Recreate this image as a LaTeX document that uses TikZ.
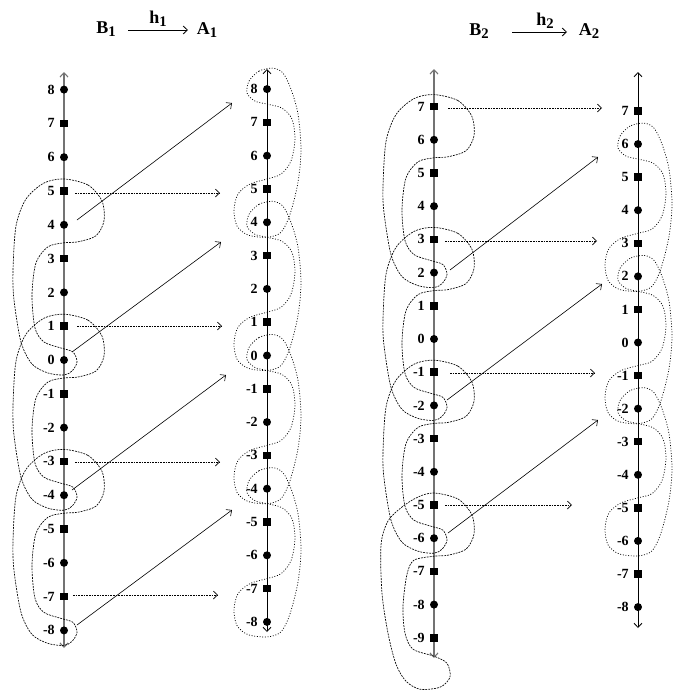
\documentclass[tikz,border=0pt]{standalone}
\usepackage{fontspec}
\setmainfont{Liberation Serif}
\usetikzlibrary{arrows.meta}
\newcommand\lowsub[1]{\raisebox{-2.8pt}{\fontsize{11}{12}\selectfont #1}}
\begin{document}
\begin{tikzpicture}[x=0.75pt,y=-0.75pt,
  >={Straight Barb[length=3.2pt,width=6pt]},
  dotpt/.style={circle,fill=black,inner sep=0pt,minimum size=6pt},
  sqpt/.style={rectangle,fill=black,inner sep=0pt,minimum size=5.6pt},
  lab/.style={anchor=east,font=\fontsize{10.5}{11}\selectfont\bfseries,inner sep=0pt},
  ttl/.style={font=\fontsize{13.5}{14}\selectfont\bfseries,inner sep=1pt},
  axisB/.style={draw=black!55,line width=0.8pt,<->},
  axisA/.style={draw=black,line width=0.6pt,<->},
  curveB/.style={line width=0.5pt,dash pattern=on 1.4pt off 0.8pt},
  curveA/.style={line width=0.55pt,dash pattern=on 0.7pt off 1.3pt},
  harrow/.style={line width=0.5pt,dash pattern=on 1.2pt off 0.8pt,->},
  darrow/.style={line width=0.45pt,->},
  tarrow/.style={line width=0.6pt,->}]
\useasboundingbox (0,0) rectangle (684,693);

% ---------- titles ----------
\node[ttl] (tB1) at (106,29) {B\lowsub{1}};
\node[ttl] (tA1) at (207,30) {A\lowsub{1}};
\draw[tarrow] (128,30) -- (188,30) node[midway,above=1pt,ttl] {h\lowsub{1}};
\node[ttl] (tB2) at (479,31) {B\lowsub{2}};
\node[ttl] (tA2) at (589,31) {A\lowsub{2}};
\draw[tarrow] (512,32) -- (567,32) node[pos=0.6,above=1pt,ttl] {h\lowsub{2}};

% ---------- axes ----------
\coordinate (b1t) at (64,72); \coordinate (b1b) at (64,648);
\coordinate (a1t) at (267,69); \coordinate (a1b) at (267,632);
\coordinate (b2t) at (434,69); \coordinate (b2b) at (434,658);
\coordinate (a2t) at (638,72); \coordinate (a2b) at (638,628);
\draw[axisB] (b1b) -- (b1t);
\draw[axisA] (a1b) -- (a1t);
\draw[axisB] (b2b) -- (b2t);
\draw[axisA] (a2b) -- (a2t);

% ---------- points ----------
\foreach \n in {-8,...,8}{
  \pgfmathsetmacro\yy{360-33.8*\n}
  \ifodd\n\relax \node[sqpt] (b1p\n) at (64,\yy) {};\else \node[dotpt] (b1p\n) at (64,\yy) {};\fi
  \node[lab] at (55,\yy) {\n};
}
\foreach \n in {-8,...,8}{
  \pgfmathsetmacro\yy{355.5-33.3*\n}
  \ifodd\n\relax \node[sqpt] (a1p\n) at (267,\yy) {};\else \node[dotpt] (a1p\n) at (267,\yy) {};\fi
  \node[lab] at (258,\yy) {\n};
}
\foreach \n in {-9,...,7}{
  \pgfmathsetmacro\yy{339-33.2*\n}
  \ifodd\n\relax \node[sqpt] (b2p\n) at (434,\yy) {};\else \node[dotpt] (b2p\n) at (434,\yy) {};\fi
  \node[lab] at (425,\yy) {\n};
}
\foreach \n in {-8,...,7}{
  \pgfmathsetmacro\yy{342.5-33.07*\n}
  \ifodd\n\relax \node[sqpt] (a2p\n) at (638,\yy) {};\else \node[dotpt] (a2p\n) at (638,\yy) {};\fi
  \node[lab] at (629,\yy) {\n};
}

% ---------- B curves ----------
\def\X{64}
\foreach \k in {5,1,-3}{
  \pgfmathsetmacro\Yo{360-33.8*\k}
  \pgfmathsetmacro\Ye{\Yo+33.8}
  \pgfmathsetmacro\Yf{\Ye+135.2}
  \draw[curveB] plot[smooth cycle] coordinates {
    (\X,\Yo-12) (\X+24,\Yo-6) (\X+38,\Yo+10) (\X+40,\Ye-4) (\X+32,\Ye+11) (\X+14,\Ye+17)
    (\X,\Ye+18) (\X-16,\Ye+22) (\X-28,\Ye+38) (\X-32,\Ye+70) (\X-29,\Yf-32) (\X-20,\Yf-18)
    (\X-3,\Yf-12) (\X+9,\Yf-8) (\X+13,\Yf+2) (\X+8,\Yf+11) (\X,\Yf+15) (\X-16,\Yf+13)
    (\X-32,\Yf+4) (\X-43,\Yf-18) (\X-50,\Yf-60) (\X-51,\Yo+80) (\X-48,\Yo+35) (\X-38,\Yo+8)
    (\X-20,\Yo-8)};
}
\def\X{434}
\foreach \k in {7,3,-1}{
  \pgfmathsetmacro\Yo{339-33.2*\k}
  \pgfmathsetmacro\Ye{\Yo+33.2}
  \pgfmathsetmacro\Yf{\Ye+132.8}
  \draw[curveB] plot[smooth cycle] coordinates {
    (\X,\Yo-12) (\X+24,\Yo-6) (\X+38,\Yo+10) (\X+40,\Ye-4) (\X+32,\Ye+11) (\X+14,\Ye+17)
    (\X,\Ye+18) (\X-16,\Ye+22) (\X-28,\Ye+38) (\X-32,\Ye+70) (\X-29,\Yf-32) (\X-20,\Yf-18)
    (\X-3,\Yf-12) (\X+9,\Yf-8) (\X+13,\Yf+2) (\X+8,\Yf+11) (\X,\Yf+15) (\X-16,\Yf+13)
    (\X-32,\Yf+4) (\X-43,\Yf-18) (\X-50,\Yf-60) (\X-51,\Yo+80) (\X-48,\Yo+35) (\X-38,\Yo+8)
    (\X-20,\Yo-8)};
}
\pgfmathsetmacro\Yo{339+33.2*5}
\pgfmathsetmacro\Ye{\Yo+33.2}
\draw[curveB] plot[smooth cycle] coordinates {
    (\X,\Yo-12) (\X+24,\Yo-6) (\X+38,\Yo+10) (\X+40,\Ye-4) (\X+32,\Ye+11) (\X+14,\Ye+17)
    (\X,\Ye+18) (\X-20,\Ye+22) (\X-27,\Ye+36) (\X-31,\Ye+68) (\X-29,\Ye+95) (\X-21,\Ye+111)
    (\X,\Ye+118) (\X+13,\Ye+125) (\X+16,\Ye+139) (\X+6,\Ye+149) (\X-14,\Ye+151) (\X-28,\Ye+143)
    (\X-38,\Ye+126) (\X-46,\Ye+95) (\X-52,\Ye+55) (\X-53,\Yo+40) (\X-46,\Yo+16) (\X-32,\Yo+2)
    (\X-16,\Yo-8)};

% ---------- A curves ----------
\def\X{267}
\foreach \k in {8,4,0,-4}{
  \pgfmathsetmacro\Ye{355.5-33.3*\k}
  \pgfmathsetmacro\Yo{\Ye+99.9}
  \pgfmathsetmacro\Yf{\Yo+33.3}
  \draw[curveA] plot[smooth cycle] coordinates {
    (\X+6,\Ye-21) (\X-8,\Ye-18) (\X-18,\Ye-8) (\X-20,\Ye+4) (\X-12,\Ye+12) (\X,\Ye+15)
    (\X+15,\Ye+19) (\X+25,\Ye+30) (\X+28,\Ye+50) (\X+24,\Ye+72) (\X+14,\Ye+85) (\X,\Yo-10)
    (\X-17,\Yo-5) (\X-29,\Yo+5) (\X-33,\Yo+21) (\X-30,\Yo+37) (\X-19,\Yo+46) (\X,\Yf+15)
    (\X+14,\Yf+10) (\X+23,\Yf-8) (\X+31,\Yf-40) (\X+34,\Ye+60) (\X+31,\Ye+25) (\X+24,\Ye+0)
    (\X+16,\Ye-16)};
}
\def\X{638}
\foreach \k in {6,2,-2}{
  \pgfmathsetmacro\Ye{342.5-33.07*\k}
  \pgfmathsetmacro\Yo{\Ye+99.2}
  \pgfmathsetmacro\Yf{\Yo+33.07}
  \draw[curveA] plot[smooth cycle] coordinates {
    (\X+6,\Ye-21) (\X-8,\Ye-18) (\X-18,\Ye-8) (\X-20,\Ye+4) (\X-12,\Ye+12) (\X,\Ye+15)
    (\X+15,\Ye+19) (\X+25,\Ye+30) (\X+28,\Ye+50) (\X+24,\Ye+72) (\X+14,\Ye+85) (\X,\Yo-10)
    (\X-17,\Yo-5) (\X-29,\Yo+5) (\X-33,\Yo+21) (\X-30,\Yo+37) (\X-19,\Yo+46) (\X,\Yf+15)
    (\X+14,\Yf+10) (\X+23,\Yf-8) (\X+31,\Yf-40) (\X+34,\Ye+60) (\X+31,\Ye+25) (\X+24,\Ye+0)
    (\X+16,\Ye-16)};
}

% ---------- arrows h1 ----------
\coordinate (s11) at (75,193);  \coordinate (e11) at (220,193);
\coordinate (s12) at (77,326);  \coordinate (e12) at (222,326);
\coordinate (s13) at (75,462);  \coordinate (e13) at (220,462);
\coordinate (s14) at (73,595);  \coordinate (e14) at (218,595);
\foreach \i in {1,2,3,4} \draw[harrow] (s1\i) -- (e1\i);
\coordinate (d11) at (77,220);  \coordinate (f11) at (232,103);
\coordinate (d12) at (72,352);  \coordinate (f12) at (221,242);
\coordinate (d13) at (72,490);  \coordinate (f13) at (226,375);
\coordinate (d14) at (77,625);  \coordinate (f14) at (232,510);
\foreach \i in {1,2,3,4} \draw[darrow] (d1\i) -- (f1\i);

% ---------- arrows h2 ----------
\coordinate (s21) at (448,108); \coordinate (e21) at (602,108);
\coordinate (s22) at (445,241); \coordinate (e22) at (597,241);
\coordinate (s23) at (450,373); \coordinate (e23) at (595,373);
\coordinate (s24) at (445,505); \coordinate (e24) at (572,505);
\foreach \i in {1,2,3,4} \draw[harrow] (s2\i) -- (e2\i);
\coordinate (d21) at (450,270); \coordinate (f21) at (598,157);
\coordinate (d22) at (447,400); \coordinate (f22) at (602,284);
\coordinate (d23) at (448,533); \coordinate (f23) at (598,420);
\foreach \i in {1,2,3} \draw[darrow] (d2\i) -- (f2\i);
\end{tikzpicture}
\end{document}
